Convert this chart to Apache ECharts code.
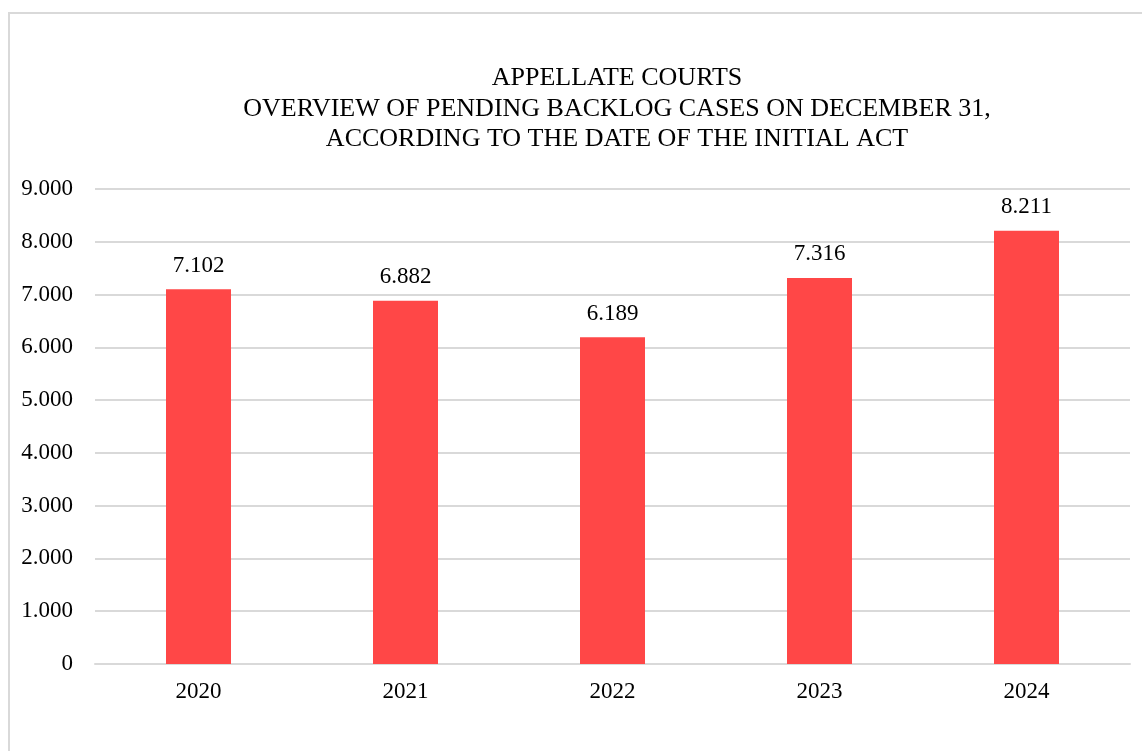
<!DOCTYPE html>
<html><head><meta charset="utf-8">
<script src="https://cdn.jsdelivr.net/npm/echarts@6/dist/echarts.min.js"></script>
<style>html,body{margin:0;padding:0;background:#fff}#c{width:1142px;height:751px}</style>
</head><body><div id="c"></div>
<script>
const categories = ['2020','2021','2022','2023','2024'];
const values = [7102, 6882, 6189, 7316, 8211];
const titleLines = ['APPELLATE COURTS','OVERVIEW OF PENDING BACKLOG CASES ON DECEMBER 31,','ACCORDING TO THE DATE OF THE INITIAL ACT'];
const fmt = v => String(v).replace(/\B(?=(\d{3})+(?!\d))/g, '.');
const font = '"Liberation Serif","Times New Roman",serif';
const chart = echarts.init(document.getElementById('c'));
chart.setOption({
  animation: false,
  graphic: [{type:'rect', shape:{x:9, y:13, width:1300, height:900}, style:{fill:'none', stroke:'#d9d9d9', lineWidth:2}}],
  title: {text: titleLines.join('\n'), left: 612, top: 58, textAlign: 'center',
    textStyle: {fontFamily: font, fontSize: 26, fontWeight: 'normal', color: '#000', lineHeight: 30.5}},
  grid: {left: 95, right: 12, top: 189, bottom: 87},
  xAxis: {type: 'category', data: categories,
    axisLine: {lineStyle: {color: '#d9d9d9', width: 2}}, axisTick: {show: false},
    axisLabel: {fontFamily: font, fontSize: 23, color: '#000', margin: 16}},
  yAxis: {type: 'value', min: 0, max: 9000, interval: 1000,
    axisLine: {show: false}, axisTick: {show: false},
    splitLine: {lineStyle: {color: '#d9d9d9', width: 2}},
    axisLabel: {fontFamily: font, fontSize: 23, color: '#000', margin: 22, formatter: fmt}},
  series: [{type: 'bar', data: values, barWidth: 65, itemStyle: {color: '#FF4747'},
    label: {show: true, position: 'top', distance: 12, fontFamily: font, fontSize: 23, color: '#000', formatter: p => fmt(p.value)}}]
});
</script></body></html>
